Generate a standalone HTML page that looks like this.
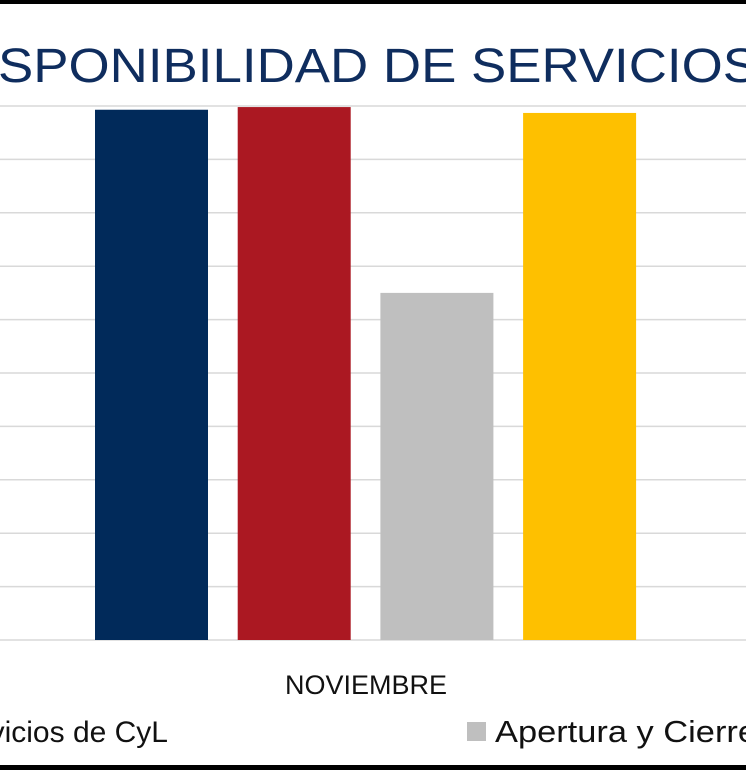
<!DOCTYPE html>
<html><head><meta charset="utf-8"><style>
html,body{margin:0;padding:0;background:#fff;width:746px;height:770px;overflow:hidden}
svg{display:block;font-family:"Liberation Sans","DejaVu Sans",sans-serif}
</style></head><body>
<svg id="chart" width="746" height="770" viewBox="0 0 746 770">
<rect x="0" y="0" width="746" height="4" fill="#000"/>
<rect x="0" y="765" width="746" height="5" fill="#000"/>
<text x="-2" y="82" font-size="48" fill="#0f2d5e" textLength="760" lengthAdjust="spacingAndGlyphs">SPONIBILIDAD DE SERVICIOS</text>
<g id="grid"></g>
<g id="bars"></g>
<text x="366" y="694" font-size="27" fill="#111" text-anchor="middle">NOVIEMBRE</text>
<text x="168" y="742" font-size="30" fill="#111" text-anchor="end">Servicios de CyL</text>
<rect x="467" y="722" width="19" height="19" fill="#bfbfbf"/>
<text x="495" y="742" font-size="31" fill="#111" textLength="262" lengthAdjust="spacingAndGlyphs">Apertura y Cierre</text>
</svg>
<script>
const ticks=[0,10,20,30,40,50,60,70,80,90,100];
const series=["Serie 1","Serie 2","Apertura y Cierre","Serie 4"];
const values=[99.3,99.8,65,98.7];
const colors=["#012a5a","#ab1822","#bfbfbf","#fec000"];
const NS="http://www.w3.org/2000/svg";
const y0=640,y1=106,vmax=100;
function y(v){return y0-(v/vmax)*(y0-y1);}
function x(i){return 95+i*142.7;}
const g=document.getElementById('grid');
ticks.forEach(t=>{const l=document.createElementNS(NS,'line');
l.setAttribute('x1',0);l.setAttribute('x2',746);l.setAttribute('y1',y(t));l.setAttribute('y2',y(t));
l.setAttribute('stroke','#d9d9d9');l.setAttribute('stroke-width',1.5);


g.appendChild(l);});
const b=document.getElementById('bars');
values.forEach((v,i)=>{const r=document.createElementNS(NS,'rect');
r.setAttribute('x',x(i));r.setAttribute('width',113);r.setAttribute('y',y(v));r.setAttribute('height',y0-y(v));
r.setAttribute('fill',colors[i]);


b.appendChild(r);});
</script>
</body></html>
